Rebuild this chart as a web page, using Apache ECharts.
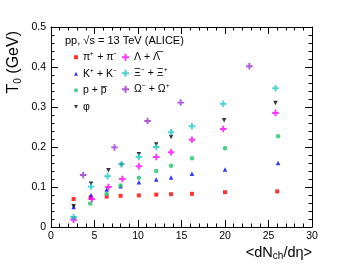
<!DOCTYPE html>
<html><head><meta charset="utf-8">
<script src="https://cdn.jsdelivr.net/npm/echarts@6/dist/echarts.min.js"></script>
<style>html,body{margin:0;padding:0;background:#fff}#c{width:347px;height:267px}</style>
</head><body><div id="c"></div>
<script>
const FONT = '"Liberation Sans", Arial, sans-serif';
const xTicks = [0, 5, 10, 15, 20, 25, 30];
const yTicks = [0, 0.1, 0.2, 0.3, 0.4, 0.5];
const seriesNames = ['π⁺ + π⁻', 'K⁺ + K⁻', 'p + p̅', 'φ', 'Λ + Λ̅', 'Ξ⁻ + Ξ⁺', 'Ω⁻ + Ω⁺'];
const pion = [[2.6,0.070],[4.55,0.073],[6.4,0.076],[8.0,0.078],[10.1,0.079],[12.1,0.081],[13.8,0.082],[16.2,0.083],[20.0,0.087],[26.0,0.089]];
const kaon = [[2.6,0.050],[4.6,0.080],[6.4,0.094],[8.0,0.102],[10.1,0.112],[12.1,0.119],[13.8,0.124],[16.2,0.133],[20.0,0.144],[26.1,0.160]];
const proton = [[2.6,0.022],[4.5,0.059],[6.4,0.083],[8.0,0.104],[10.1,0.123],[12.1,0.140],[13.8,0.153],[16.2,0.172],[20.0,0.197],[26.1,0.227]];
const phi = [[2.6,0.052],[4.6,0.108],[6.6,0.142],[8.1,0.155],[10.1,0.182],[12.1,0.206],[13.8,0.225],[19.9,0.267],[25.8,0.310]];
const lambda = [[2.6,0.018],[4.7,0.070],[6.6,0.100],[8.2,0.120],[10.1,0.152],[12.1,0.175],[13.8,0.187],[16.2,0.218],[19.8,0.245],[25.8,0.285]];
const xi = [[2.6,0.025],[4.6,0.101],[6.5,0.127],[8.1,0.157],[10.1,0.175],[12.1,0.200],[13.8,0.237],[16.2,0.252],[19.8,0.308],[25.8,0.347]];
const omega = [[3.7,0.130],[7.3,0.199],[11.1,0.265],[14.9,0.311],[22.8,0.402]];

const PLUS = 'path://M0,2.5 L2.5,2.5 L2.5,0 L4.5,0 L4.5,2.5 L7,2.5 L7,4.5 L4.5,4.5 L4.5,7 L2.5,7 L2.5,4.5 L0,4.5 Z';
const INVTRI = 'path://M0,0 L10,0 L5,9 Z';
const styles = [
  {color:'#ff0000', symbol:'rect', size:4},
  {color:'#0000ff', symbol:'triangle', size:4.5},
  {color:'#1ec46a', symbol:'circle', size:4.5},
  {color:'#000000', symbol:INVTRI, size:4.5},
  {color:'#ff00ff', symbol:PLUS, size:6.5},
  {color:'#1cc8c8', symbol:PLUS, size:6.5},
  {color:'#9b30d0', symbol:PLUS, size:6.5}
];
const datasets = [pion, kaon, proton, phi, lambda, xi, omega];

const axisCommon = {
  type:'value',
  axisLine:{show:true, onZero:false, lineStyle:{color:'#000', width:1}},
  axisTick:{show:true, inside:true, length:7, lineStyle:{color:'#000'}},
  minorTick:{show:true, splitNumber:5, length:3.5, lineStyle:{color:'#000'}},
  splitLine:{show:false},
  axisLabel:{color:'#000', fontFamily:FONT, fontSize:10.5}
};
const chart = echarts.init(document.getElementById('c'), null, {renderer:'canvas'});
const legendCommon = {
  orient:'vertical', itemWidth:4, itemHeight:4, itemGap:4,
  textStyle:{fontFamily:FONT, fontSize:10.5, color:'#000', lineHeight:12.5},
  selectedMode:false
};
chart.setOption({
  animation:false,
  grid:{left:51, right:35, top:27, bottom:40, containLabel:false},
  xAxis:[
    Object.assign({}, axisCommon, {position:'bottom', min:0, max:30, interval:5, axisLabel:Object.assign({}, axisCommon.axisLabel, {margin:4})}),
    Object.assign({}, axisCommon, {position:'top', min:0, max:30, interval:5, axisLabel:{show:false}})
  ],
  yAxis:[
    Object.assign({}, axisCommon, {position:'left', min:0, max:0.5, interval:0.1,
      axisLabel:Object.assign({}, axisCommon.axisLabel, {margin:5, formatter:v => v === 0 ? '0' : v.toFixed(1)})}),
    Object.assign({}, axisCommon, {position:'right', min:0, max:0.5, interval:0.1, axisLabel:{show:false}})
  ],
  legend:[
    Object.assign({}, legendCommon, {left:69, top:46, data:seriesNames.slice(0,4).map((n,i)=>({name:n, icon:styles[i].symbol}))}),
    Object.assign({}, legendCommon, {left:117, top:46, itemWidth:7, itemHeight:7, itemGap:3.5, data:seriesNames.slice(4).map((n,i)=>({name:n, icon:styles[i+4].symbol}))})
  ],
  graphic:[
    {type:'text', left:65, top:35, style:{text:'pp, √s = 13 TeV (ALICE)', font:'11px ' + FONT, fill:'#000'}},
    {type:'text', x:14, y:31, rotation:Math.PI/2, style:{
      text:'{a|T}{s|0}{a| (GeV)}', rich:{a:{fontFamily:FONT, fontSize:16, fill:'#000'}, s:{fontFamily:FONT, fontSize:10, fill:'#000', padding:[8,0,0,0]}},
      fill:'#000', align:'right', verticalAlign:'middle'}},
    {type:'text', right:35, top:245, style:{
      text:'{a|<dN}{s|ch}{a|/dη>}', rich:{a:{fontFamily:FONT, fontSize:14.5, fill:'#000'}, s:{fontFamily:FONT, fontSize:10, fill:'#000', padding:[8,0,0,0]}}, fill:'#000'}}
  ],
  series: datasets.map((d,i)=>({
    name:seriesNames[i], type:'scatter', data:d, symbol:styles[i].symbol, symbolSize:styles[i].size,
    itemStyle:{color:styles[i].color}, xAxisIndex:0, yAxisIndex:0
  }))
});
</script></body></html>
